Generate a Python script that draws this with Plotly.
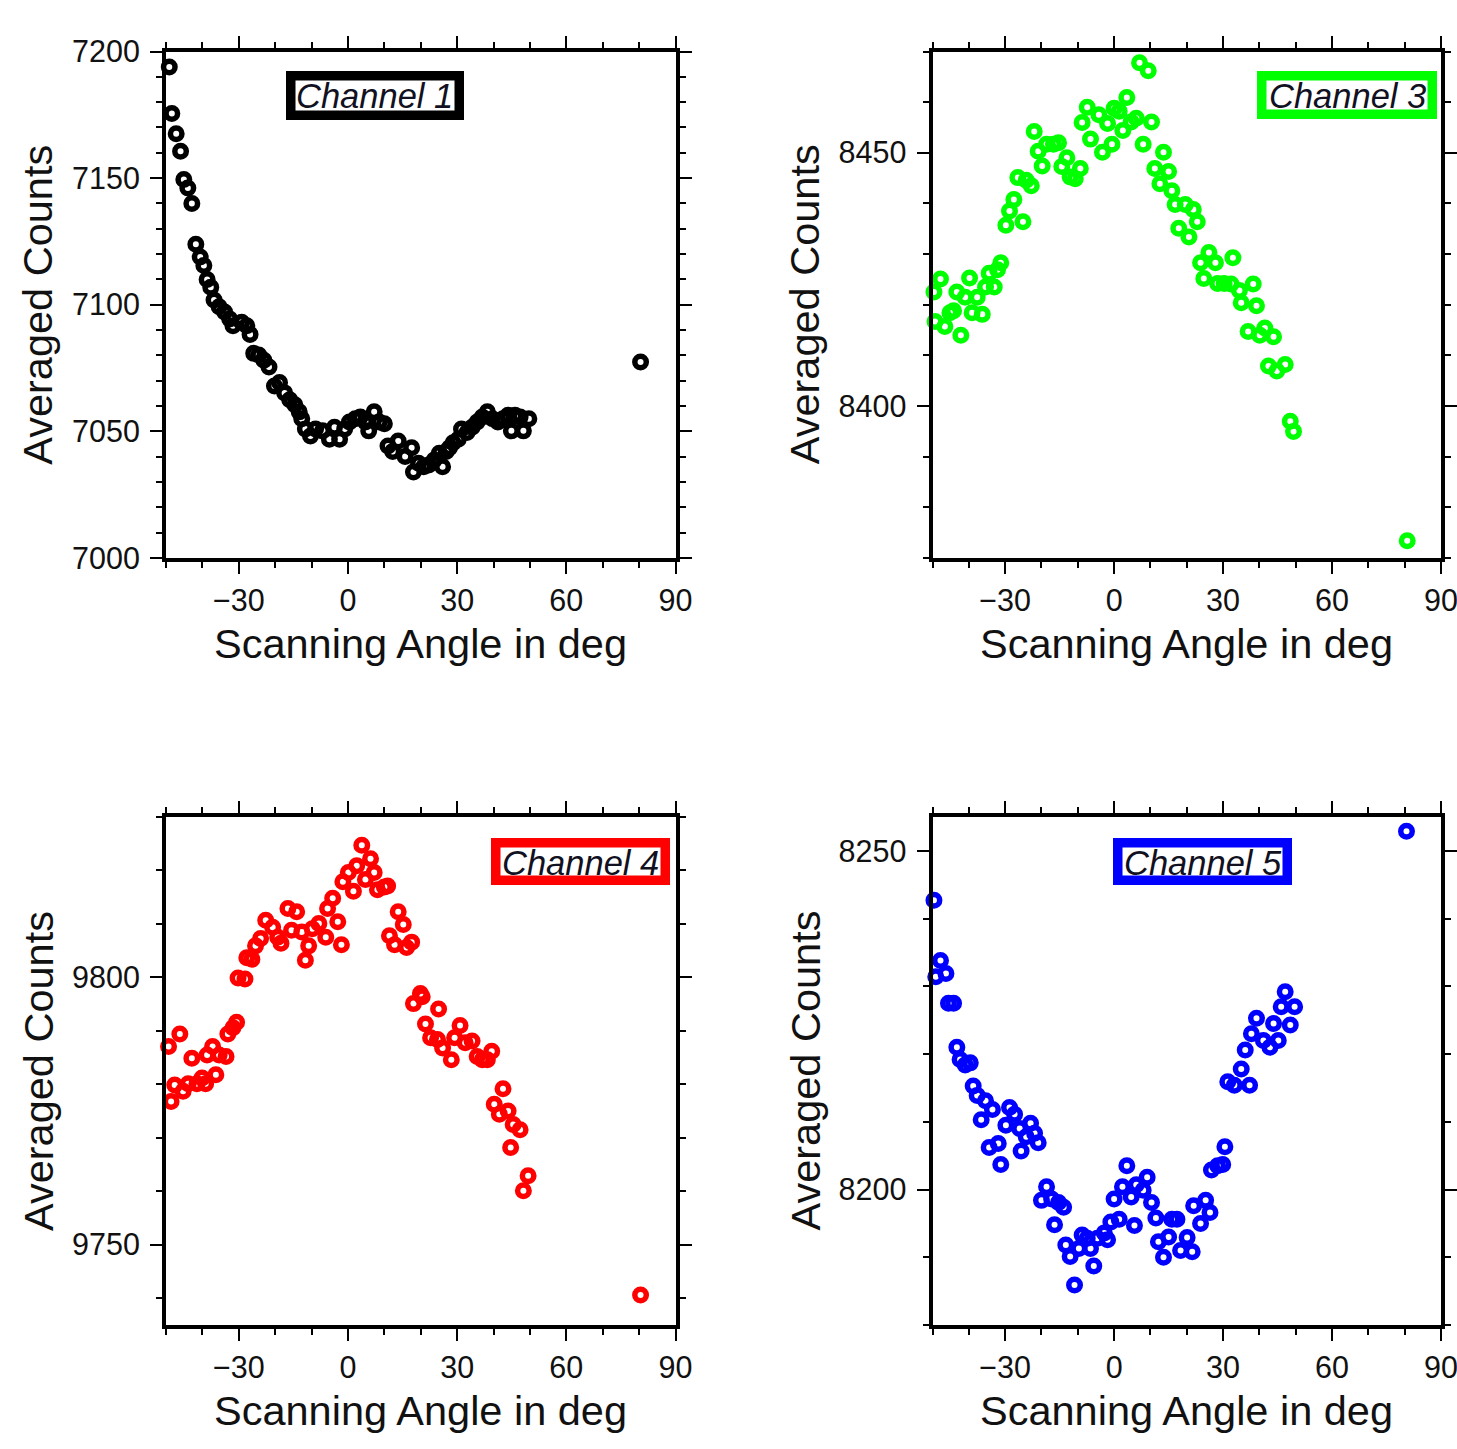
import plotly.graph_objects as go

# ---------------- data ----------------
ch1_angle = [-49.1, -48.4, -47.2, -46.0, -45.1, -44.0, -42.9, -41.8, -40.6, -39.6, -38.7, -37.7, -36.8, -35.4,
             -33.9, -32.5, -31.6, -29.2, -27.8, -26.9, -25.9, -24.5, -23.1, -21.7, -20.2, -18.8, -17.4, -16.0,
             -14.6, -13.4, -12.7, -11.7, -10.3, -8.9, -7.0, -5.1, -3.7, -2.3, -0.9, 0.4, 2.0, 3.4, 4.8, 5.7,
             7.2, 8.6, 10.0, 11.0, 12.3, 13.8, 15.7, 17.5, 18.0, 19.4, 20.8, 22.2, 23.7, 25.1, 26.0, 27.0,
             27.9, 28.9, 30.3, 31.2, 32.7, 34.1, 35.5, 36.9, 38.3, 39.7, 41.2, 42.6, 44.0, 44.9, 45.9, 47.3,
             48.2, 49.7, 80.4]
ch1_counts = [7193.9, 7175.5, 7167.5, 7160.6, 7149.5, 7146.1, 7140.0, 7123.9, 7118.9, 7115.5, 7110.0, 7106.9,
              7101.9, 7099.2, 7097.1, 7094.4, 7091.7, 7093.1, 7091.7, 7088.3, 7080.8, 7080.2, 7078.1, 7075.4,
              7067.9, 7069.3, 7065.2, 7062.5, 7060.5, 7057.7, 7055.0, 7050.9, 7048.2, 7050.9, 7050.2, 7046.9,
              7051.6, 7046.9, 7050.9, 7053.7, 7055.0, 7055.7, 7053.7, 7050.2, 7057.7, 7053.7, 7053.0, 7044.2,
              7042.1, 7046.2, 7040.1, 7043.5, 7034.0, 7037.4, 7036.0, 7036.7, 7038.7, 7041.4, 7036.0, 7042.1,
              7043.5, 7045.5, 7046.9, 7050.9, 7049.6, 7051.6, 7053.7, 7055.7, 7057.7, 7055.0, 7053.7, 7055.0,
              7056.4, 7050.2, 7056.4, 7055.7, 7050.2, 7055.0, 7077.4]

ch3_angle = [-49.6, -47.8, -49.3, -46.6, -45.2, -44.2, -43.3, -42.2, -41.0, -39.8, -39.1, -37.7, -36.3, -35.4,
             -34.4, -33.0, -32.1, -31.2, -29.8, -28.8, -27.6, -25.1, -26.5, -24.2, -22.8, -22.0, -20.9, -19.8,
             -18.6, -16.7, -15.3, -14.4, -13.0, -12.1, -10.7, -9.3, -8.8, -7.4, -6.5, -4.2, -3.2, -1.8, -0.6,
             0.0, 1.4, 2.4, 3.5, 4.7, 6.1, 7.0, 8.0, 9.4, 10.3, 11.2, 12.6, 13.6, 15.0, 15.9, 16.8, 17.8, 19.6,
             20.6, 21.8, 22.9, 23.8, 24.7, 26.1, 27.9, 28.5, 30.3, 32.7, 32.2, 34.5, 35.0, 38.3, 36.9, 39.2,
             40.1, 41.5, 43.9, 42.5, 44.8, 47.1, 48.5, 49.4, 80.7]
ch3_counts = [8422.5, 8425.1, 8416.7, 8415.7, 8418.4, 8418.8, 8422.5, 8414.0, 8421.5, 8425.3, 8418.4, 8421.5,
              8418.1, 8423.5, 8426.2, 8423.5, 8426.9, 8428.3, 8435.7, 8438.5, 8440.8, 8436.4, 8445.1, 8444.6,
              8443.5, 8454.2, 8450.3, 8447.4, 8451.7, 8451.7, 8452.0, 8447.3, 8449.0, 8445.2, 8444.9, 8446.9,
              8456.0, 8459.0, 8452.7, 8457.5, 8450.1, 8455.8, 8451.7, 8458.8, 8458.2, 8454.4, 8460.9, 8456.1,
              8456.8, 8467.8, 8451.7, 8466.2, 8456.1, 8446.9, 8443.9, 8450.1, 8446.3, 8442.5, 8439.8, 8435.1,
              8439.8, 8433.4, 8438.8, 8436.4, 8428.3, 8425.2, 8430.3, 8428.3, 8424.2, 8424.2, 8429.3, 8424.1,
              8422.8, 8420.4, 8424.1, 8414.7, 8419.8, 8414.0, 8415.4, 8413.7, 8407.9, 8406.9, 8408.2, 8397.0,
              8395.0, 8373.4]

ch4_angle = [-49.3, -46.2, -48.6, -47.6, -45.3, -43.9, -42.9, -41.5, -40.1, -39.1, -38.7, -37.2, -36.3, -35.4,
             -33.5, -33.0, -31.6, -30.6, -30.2, -28.3, -27.8, -26.4, -25.4, -24.0, -22.6, -20.7, -19.3, -18.4,
             -16.5, -15.5, -14.1, -12.7, -11.7, -10.8, -9.8, -8.0, -6.1, -5.6, -4.2, -2.8, -1.8, -1.4, 0.1,
             1.5, 2.4, 3.8, 4.8, 6.2, 7.2, 8.1, 10.0, 10.9, 13.8, 11.4, 15.2, 12.8, 16.1, 17.5, 18.0, 19.9,
             20.4, 21.3, 24.9, 22.7, 24.6, 26.0, 28.4, 29.3, 30.8, 32.2, 34.1, 35.5, 36.9, 38.3, 39.5, 40.2,
             42.6, 41.6, 44.0, 45.4, 47.3, 44.7, 49.5, 48.2, 80.4]
ch4_counts = [9787.1, 9789.4, 9776.8, 9779.9, 9778.7, 9780.1, 9784.9, 9780.1, 9781.2, 9780.1, 9785.5, 9787.1,
              9781.8, 9785.5, 9785.2, 9789.4, 9790.6, 9791.6, 9799.9, 9799.7, 9803.7, 9803.4, 9805.9, 9807.3,
              9810.7, 9809.4, 9807.5, 9806.4, 9812.9, 9808.8, 9812.3, 9808.5, 9803.2, 9805.9, 9809.1, 9810.1,
              9807.5, 9812.9, 9814.8, 9810.4, 9806.1, 9817.9, 9819.6, 9816.1, 9820.9, 9824.7, 9818.3, 9822.2,
              9819.6, 9816.4, 9816.9, 9817.1, 9812.3, 9807.8, 9809.9, 9806.1, 9805.6, 9806.6, 9795.1, 9797.0,
              9796.4, 9791.3, 9794.1, 9788.7, 9788.4, 9786.8, 9784.6, 9788.7, 9791.0, 9787.8, 9788.1, 9785.2,
              9784.6, 9784.6, 9786.2, 9776.3, 9779.2, 9774.4, 9775.0, 9772.5, 9771.5, 9768.2, 9762.9, 9760.1,
              9740.6]

ch5_angle = [-49.6, -47.8, -49.1, -46.3, -45.6, -44.2, -43.3, -42.4, -41.0, -39.6, -38.8, -37.7, -36.6, -35.4,
             -34.4, -33.5, -31.9, -31.2, -29.8, -28.8, -27.4, -26.0, -25.6, -24.2, -23.0, -21.9, -20.9, -20.0,
             -18.6, -17.2, -16.4, -15.3, -13.9, -13.3, -12.1, -10.9, -9.7, -8.8, -7.4, -6.5, -5.6, -4.6, -2.7,
             -1.8, -0.9, 0.0, 1.4, 2.3, 3.5, 4.7, 5.6, 6.1, 8.0, 9.1, 10.3, 11.5, 12.2, 13.6, 15.0, 15.9, 17.3,
             18.3, 20.1, 21.5, 21.9, 23.8, 25.2, 26.4, 26.8, 28.5, 29.9, 30.5, 31.3, 33.1, 35.0, 37.3, 36.1,
             37.8, 39.2, 41.1, 42.9, 43.9, 45.2, 46.0, 47.1, 48.5, 49.7, 80.5]
ch5_counts = [8242.7, 8233.8, 8231.4, 8231.9, 8227.5, 8227.5, 8221.0, 8219.2, 8218.4, 8218.7, 8215.3, 8213.9,
              8210.3, 8213.1, 8206.2, 8211.8, 8206.8, 8203.7, 8209.5, 8212.1, 8211.1, 8209.0, 8205.7, 8207.8,
              8209.8, 8208.3, 8206.9, 8198.4, 8200.4, 8198.6, 8194.8, 8198.1, 8197.4, 8191.8, 8190.1, 8185.9,
              8191.3, 8193.3, 8192.8, 8191.3, 8188.7, 8192.8, 8193.6, 8192.6, 8195.2, 8198.6, 8195.6, 8200.4,
              8203.5, 8198.9, 8194.7, 8200.7, 8199.9, 8201.8, 8198.1, 8195.8, 8192.3, 8190.0, 8193.0, 8195.6,
              8195.6, 8191.0, 8192.9, 8190.8, 8197.6, 8195.0, 8198.4, 8196.6, 8202.9, 8203.5, 8203.7, 8206.3,
              8215.9, 8215.4, 8217.8, 8215.4, 8220.6, 8223.0, 8225.3, 8222.0, 8221.0, 8224.5, 8222.0, 8227.0,
              8229.2, 8224.3, 8227.0, 8252.9]

channel_labels = ["Channel 1", "Channel 3", "Channel 4", "Channel 5"]
x_title = "Scanning Angle in deg"
y_title = "Averaged Counts"

# ---------------- layout helpers ----------------
W, H = 1457, 1449
FONT = "Liberation Sans, Arial, Helvetica, sans-serif"


def px(x):
    return x / W


def py(y):
    return 1 - y / H


panels = [
    dict(x=ch1_angle, y=ch1_counts, color="#000000", yr=[7000, 7200], fx=(166, 675.5), fy=(51.5, 558),
         box=(286, 71, 464, 120), label=channel_labels[0]),
    dict(x=ch3_angle, y=ch3_counts, color="#00ff00", yr=[8370, 8470], fx=(932.5, 1441), fy=(51.5, 558),
         box=(1257, 71, 1437, 119), label=channel_labels[1]),
    dict(x=ch4_angle, y=ch4_counts, color="#ff0000", yr=[9735, 9830], fx=(166, 675.5), fy=(817, 1325),
         box=(491, 838, 670, 885), label=channel_labels[2]),
    dict(x=ch5_angle, y=ch5_counts, color="#0000ff", yr=[8180, 8255], fx=(932.5, 1441), fy=(817, 1325),
         box=(1113, 838, 1292, 885), label=channel_labels[3]),
]

fig = go.Figure()
shapes = []
annotations = []
BW = 9.5  # legend box border

for i, p in enumerate(panels, start=1):
    xa = "x" if i == 1 else f"x{i}"
    ya = "y" if i == 1 else f"y{i}"
    fig.add_trace(go.Scatter(
        x=p["x"], y=p["y"], mode="markers", xaxis=xa, yaxis=ya, showlegend=False, cliponaxis=False,
        marker=dict(symbol="circle-open", size=11.5, color=p["color"],
                    line=dict(width=5.5, color=p["color"])),
    ))
    axis_common = dict(
        showline=True, linewidth=4, linecolor="black", mirror="ticks",
        ticks="outside", ticklen=12, tickwidth=2, tickcolor="black",
        showgrid=False, zeroline=False, automargin=False, ticklabeloverflow="allow",
        tickfont=dict(family=FONT, size=30.5, color="#111111"),
        minor=dict(ticks="outside", ticklen=6, tickwidth=2, tickcolor="black", dtick=10, showgrid=False),
    )
    x0, x1 = p["fx"]
    ytop, ybot = p["fy"]
    fig.update_layout(**{
        ("xaxis" if i == 1 else f"xaxis{i}"): dict(
            axis_common, domain=[px(x0), px(x1)], range=[-50, 90], dtick=30, tick0=0,
            anchor=ya, tickformat="d"),
        ("yaxis" if i == 1 else f"yaxis{i}"): dict(
            axis_common, domain=[py(ybot), py(ytop)], range=p["yr"], dtick=50, tick0=0,
            anchor=xa, tickformat="d", ticklabelstandoff=4),
    })
    # axis titles
    annotations.append(dict(
        text=x_title, xref="paper", yref="paper", x=px((x0 + x1) / 2), y=py(ybot + 85),
        xanchor="center", yanchor="middle", showarrow=False,
        font=dict(family=FONT, size=41.5, color="#111111")))
    annotations.append(dict(
        text=y_title, xref="paper", yref="paper", x=px(x0 - 128), y=py((ytop + ybot) / 2),
        xanchor="center", yanchor="middle", showarrow=False, textangle=-90,
        font=dict(family=FONT, size=41.5, color="#111111")))
    # channel label box
    bx0, by0, bx1, by1 = p["box"]
    shapes.append(dict(
        type="rect", xref="paper", yref="paper", layer="above",
        x0=px(bx0 + BW / 2), x1=px(bx1 - BW / 2), y0=py(by0 + BW / 2), y1=py(by1 - BW / 2),
        line=dict(color=p["color"], width=BW), fillcolor="white"))
    annotations.append(dict(
        text=f"<i>{p['label']}</i>", xref="paper", yref="paper",
        x=px((bx0 + bx1) / 2), y=py((by0 + by1) / 2 + 1),
        xanchor="center", yanchor="middle", showarrow=False,
        font=dict(family=FONT, size=34.5, color="#111122")))

fig.update_layout(
    width=W, height=H, autosize=False,
    margin=dict(l=0, r=0, t=0, b=0, pad=0, autoexpand=False),
    paper_bgcolor="white", plot_bgcolor="white",
    shapes=shapes, annotations=annotations,
    font=dict(family=FONT),
)

fig.write_html("out.html")
